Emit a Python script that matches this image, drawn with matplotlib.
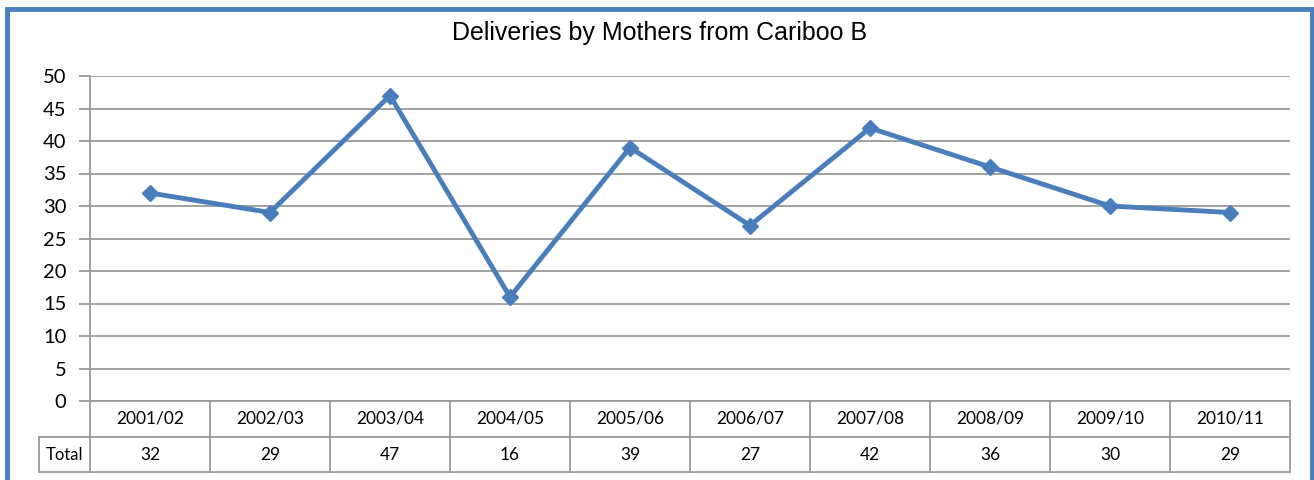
import matplotlib
matplotlib.use("Agg")
import matplotlib.pyplot as plt
from matplotlib.patches import Rectangle
from matplotlib.transforms import blended_transform_factory

# Dane
years = ["2001/02", "2002/03", "2003/04", "2004/05", "2005/06",
         "2006/07", "2007/08", "2008/09", "2009/10", "2010/11"]
totals = [32, 29, 47, 16, 39, 27, 42, 36, 30, 29]
yticks = [0, 5, 10, 15, 20, 25, 30, 35, 40, 45, 50]

W, H = 1314, 480
line_color = "#4A7EBB"
grid_color = "#9A9A9A"

fig = plt.figure(figsize=(W / 100, H / 100), dpi=100)

def fx(px):
    return px / W

def fy(py):
    return 1 - py / H

# Obszar wykresu
left, right, top, bottom = 90, 1290, 76, 401
ax = fig.add_axes([fx(left), fy(bottom), fx(right - left), fy(top) - fy(bottom)])

x = list(range(len(years)))
ax.plot(x, totals, color=line_color, lw=3.5, marker="D", markersize=8,
        markerfacecolor=line_color, markeredgecolor=line_color, zorder=3)

ax.set_xlim(-0.5, len(years) - 0.5)
ax.set_ylim(0, 50)
ax.set_yticks(yticks)
ax.set_yticklabels([str(v) for v in yticks], fontsize=14.5, family="Lato")
ax.set_xticks([])
ax.yaxis.grid(True, color=grid_color, lw=1.3)
ax.set_axisbelow(True)
for s in ["top", "right", "bottom"]:
    ax.spines[s].set_visible(False)
ax.spines["left"].set_color(grid_color)
ax.spines["left"].set_linewidth(1.3)
ax.tick_params(axis="y", length=8, width=1.3, color=grid_color, pad=9)

# Tabela danych pod wykresem
tr = blended_transform_factory(ax.transData, fig.transFigure)
ft = fig.transFigure
r0, r1, r2 = 401, 437, 472
tbl_kw = dict(color=grid_color, lw=1.3, clip_on=False)

for k in range(len(years) + 1):
    ax.plot([k - 0.5, k - 0.5], [fy(r0), fy(r2)], transform=tr, **tbl_kw)
fig.lines.append(plt.Line2D([fx(left), fx(right)], [fy(r0), fy(r0)], transform=ft, color=grid_color, lw=1.3))
fig.lines.append(plt.Line2D([fx(39), fx(right)], [fy(r1), fy(r1)], transform=ft, color=grid_color, lw=1.3))
fig.lines.append(plt.Line2D([fx(39), fx(right)], [fy(r2), fy(r2)], transform=ft, color=grid_color, lw=1.3))
fig.lines.append(plt.Line2D([fx(39), fx(39)], [fy(r1), fy(r2)], transform=ft, color=grid_color, lw=1.3))

for i, (yr, v) in enumerate(zip(years, totals)):
    ax.text(i, fy((r0 + r1) / 2), yr, transform=tr, ha="center", va="center",
            fontsize=12.5, family="Lato")
    ax.text(i, fy((r1 + r2) / 2), str(v), transform=tr, ha="center", va="center",
            fontsize=12.5, family="Lato")
fig.text(fx((39 + left) / 2), fy((r1 + r2) / 2), "Total", ha="center", va="center",
         fontsize=12, family="Lato")

# Tytuł
fig.text(fx(660), fy(33), "Deliveries by Mothers from Cariboo B", ha="center",
         va="center", fontsize=18, family="Liberation Sans")

# Niebieska ramka
fig.patches.append(Rectangle((fx(7), fy(490)), fx(1312 - 7), fy(9) - fy(490),
                             transform=ft, fill=False, edgecolor=line_color, lw=3.5))

plt.savefig("out.png", dpi=100)
